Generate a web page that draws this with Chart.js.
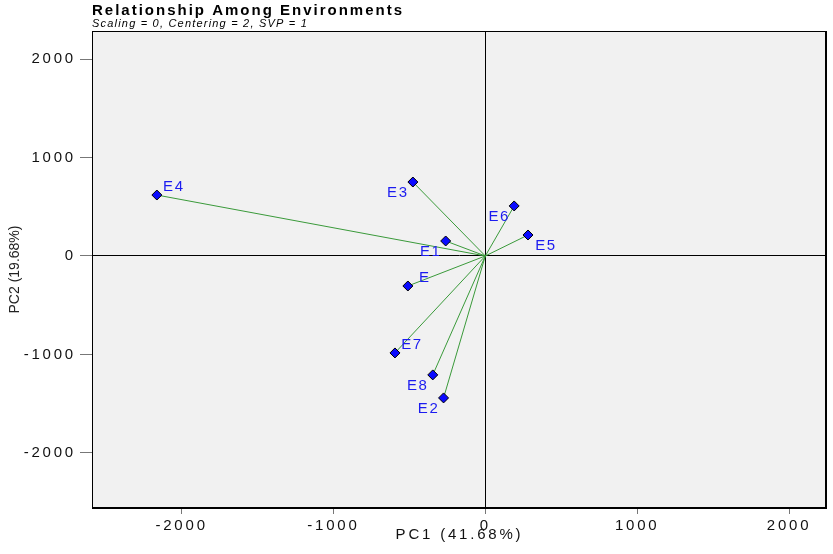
<!DOCTYPE html>
<html lang="en">
<head>
  <meta charset="UTF-8" />
  <title>Relationship Among Environments</title>
  <script src="https://cdn.jsdelivr.net/npm/chart.js"></script>
  <style>
    html, body { margin: 0; padding: 0; background: #fff; overflow: hidden; }
    canvas { display: block; }
  </style>
</head>
<body>
  <canvas id="biplot" width="833" height="554"></canvas>

  <script>
    // environment vectors (PC1, PC2 scores)
    const envNames = ["E4", "E3", "E6", "E5", "E1", "E", "E7", "E8", "E2"];
    const pc1 = [-2163, -477, 190, 281, -261, -510, -595, -346, -275];
    const pc2 = [619, 751, 508, 213, 152, -305, -985, -1208, -1442];
    const xTicks = [-2000, -1000, 0, 1000, 2000];
    const yTicks = [-2000, -1000, 0, 1000, 2000];

    // where each label sits relative to its marker
    const labelSide = ["ne", "sw", "sw", "se", "sw", "ne", "ne", "sw", "sw"];
    const sideOffset = { ne: [17, -8], sw: [-15, 11], se: [18, 11] };

    const FONT = "'Liberation Sans', Arial, sans-serif";
    const AXIS_SPACING = "2.8px";

    const points = envNames.map((n, i) => ({ x: pc1[i], y: pc2[i] }));

    const vectorSets = points.map(p => ({
      type: "line",
      data: [{ x: 0, y: 0 }, p],
      borderColor: "#3a9a3a",
      borderWidth: 1,
      pointRadius: 0,
      fill: false,
      order: 2
    }));

    const frame = {
      id: "frame",
      beforeLayout(chart) {
        chart.ctx.letterSpacing = AXIS_SPACING;
      },
      beforeDraw(chart) {
        const { ctx, chartArea: a } = chart;
        ctx.save();
        ctx.fillStyle = "#f1f1f1";
        ctx.fillRect(a.left, a.top, a.right - a.left, a.bottom - a.top);
        ctx.restore();
        // the reference text is drawn wide, so the axes get extra spacing
        ctx.letterSpacing = AXIS_SPACING;
      },
      afterDraw(chart) {
        const { ctx, chartArea: a } = chart;
        ctx.save();
        ctx.strokeStyle = "#000";
        ctx.lineWidth = 1;
        ctx.strokeRect(a.left + 0.5, a.top + 0.5, a.right - a.left - 1, a.bottom - a.top);
        ctx.lineWidth = 2;
        ctx.beginPath();
        ctx.moveTo(a.right - 1, a.top);
        ctx.lineTo(a.right - 1, a.bottom);
        ctx.lineTo(a.left, a.bottom);
        ctx.stroke();

        // titles
        ctx.fillStyle = "#000";
        ctx.textBaseline = "alphabetic";
        ctx.textAlign = "left";
        ctx.font = "bold 15px " + FONT;
        ctx.letterSpacing = "2px";
        ctx.fillText("Relationship Among Environments", 92, 15);
        ctx.font = "italic 11px " + FONT;
        ctx.letterSpacing = "1.2px";
        ctx.fillText("Scaling = 0, Centering = 2, SVP = 1", 92, 27);

        // y axis title
        ctx.save();
        ctx.translate(15, (a.top + a.bottom) / 2);
        ctx.rotate(-Math.PI / 2);
        ctx.textAlign = "center";
        ctx.textBaseline = "middle";
        ctx.font = "14px " + FONT;
        ctx.letterSpacing = "0px";
        ctx.fillStyle = "#222";
        ctx.fillText("PC2 (19.68%)", 0, 0);
        ctx.restore();

        // point labels
        const meta = chart.getDatasetMeta(chart.data.datasets.length - 1);
        ctx.fillStyle = "#1c1cf0";
        ctx.font = "15px " + FONT;
        ctx.letterSpacing = "1.6px";
        ctx.textAlign = "center";
        ctx.textBaseline = "middle";
        meta.data.forEach((el, i) => {
          const off = sideOffset[labelSide[i]];
          ctx.fillText(envNames[i], el.x + off[0], el.y + off[1]);
        });
        ctx.restore();
      }
    };

    const zeroLine = c => (c.tick && c.tick.value === 0 ? "#000" : "rgba(0,0,0,0)");
    const plain = v => String(v);

    new Chart(document.getElementById("biplot"), {
      type: "scatter",
      data: {
        datasets: [
          ...vectorSets,
          {
            type: "scatter",
            data: points,
            pointStyle: "rectRot",
            pointRadius: 5,
            pointBackgroundColor: "#0a0aff",
            pointBorderColor: "#000",
            pointBorderWidth: 1,
            order: 1
          }
        ]
      },
      options: {
        responsive: false,
        animation: false,
        layout: { padding: { top: 31, right: 3, left: 0, bottom: 0 } },
        plugins: {
          legend: { display: false },
          tooltip: { enabled: false }
        },
        scales: {
          x: {
            type: "linear",
            min: -2590,
            max: 2250,
            afterBuildTicks: s => { s.ticks = xTicks.map(v => ({ value: v })); },
            afterFit: s => { s.height = 46; s.paddingLeft = 0; s.paddingRight = 0; },
            border: { display: false },
            grid: { color: zeroLine, tickColor: "#777", tickLength: 6, lineWidth: 1 },
            ticks: { color: "#111", padding: 3, autoSkip: false, maxRotation: 0, callback: plain, font: { family: FONT, size: 15 } },
            title: { display: true, text: "PC1 (41.68%)", color: "#111", padding: { top: 0, bottom: 10 }, font: { family: FONT, size: 15 } }
          },
          y: {
            type: "linear",
            min: -2560,
            max: 2285,
            afterBuildTicks: s => { s.ticks = yTicks.map(v => ({ value: v })); },
            afterFit: s => { s.width = 92; s.paddingTop = 0; s.paddingBottom = 0; },
            border: { display: false },
            grid: { color: zeroLine, tickColor: "#777", tickLength: 12, lineWidth: 1 },
            ticks: { color: "#111", padding: 4, autoSkip: false, callback: plain, font: { family: FONT, size: 15 } },
            title: { display: false }
          }
        }
      },
      plugins: [frame]
    });
  </script>
</body>
</html>
